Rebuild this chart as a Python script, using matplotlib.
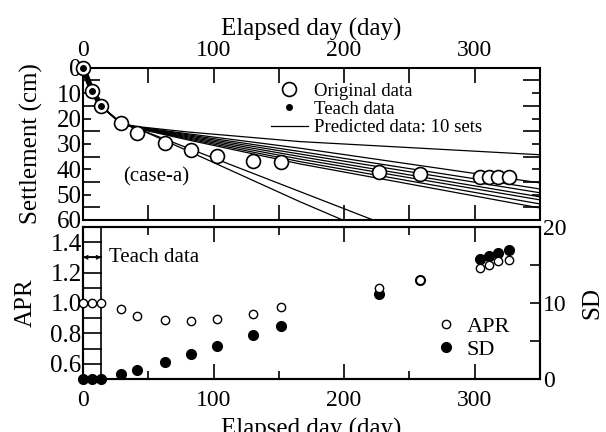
import matplotlib
matplotlib.use("Agg")
import matplotlib.pyplot as plt

plt.rcParams["font.family"] = ["Liberation Serif", "DejaVu Serif"]

# observed days and settlement (cm)
DAYS = [0, 7, 14, 29, 41, 63, 83, 103, 130, 152, 227, 258, 304, 311, 318, 326]
SETTLEMENT = [0, 9, 15, 21.7, 25.6, 29.7, 32.6, 34.7, 36.6, 37.3, 41, 41.8, 43, 43, 43, 43]

# teach data (first part of the record)
TEACH_DAYS = [0, 7, 14]
TEACH_SETTLEMENT = [0, 9, 15]

# predicted curves: 10 sets, settlement at PRED_DAYS
PRED_DAYS = [14, 29, 42, 80, 166, 350]
PRED_SETS = [
    [15, 22, 23.2, 25.3, 29.1, 34.3],
    [15, 22, 23.4, 26.0, 31.7, 45.4],
    [15, 22, 23.5, 26.4, 33.0, 47.8],
    [15, 22, 23.6, 26.8, 34.0, 49.3],
    [15, 22, 23.7, 27.2, 35.0, 50.9],
    [15, 22, 23.8, 27.6, 36.0, 52.1],
    [15, 22, 23.9, 28.0, 37.0, 53.7],
    [15, 22, 24.0, 28.4, 37.9, 55.3],
    [15, 22, 24.0, 31.6, 48.8, 85.6],
    [15, 22, 24.0, 32.7, 52.8, 93.3],
]

# APR and SD per observation
APR = [1.0, 1.0, 1.0, 0.96, 0.913, 0.887, 0.88, 0.893, 0.927, 0.973, 1.1, 1.153, 1.233, 1.247, 1.273, 1.28]
SD = [0, 0, 0, 0.66, 1.2, 2.2, 3.3, 4.3, 5.8, 7.0, 11.2, 13.0, 15.8, 16.2, 16.6, 17.0]

TEACH_END = 14

fig = plt.figure(figsize=(6.06, 4.32), dpi=100)
ax1 = fig.add_axes([0.137, 0.491, 0.754, 0.352])
ax2 = fig.add_axes([0.137, 0.1227, 0.754, 0.352])

# ---- top panel: settlement ----
for i, ps in enumerate(PRED_SETS):
    ax1.plot(PRED_DAYS, ps, color="black", lw=0.9,
             label="Predicted data: 10 sets" if i == 0 else None)
ax1.plot(TEACH_DAYS, TEACH_SETTLEMENT, color="black", lw=4, solid_capstyle="round")
ax1.plot(DAYS, SETTLEMENT, "o", ms=10, mfc="white", mec="black", mew=1.2,
         clip_on=False, zorder=5, label="Original data")
ax1.plot(TEACH_DAYS, TEACH_SETTLEMENT, "o", ms=4, color="black", zorder=6,
         clip_on=False, label="Teach data")

ax1.set_xlim(0, 350)
ax1.set_ylim(60, 0)
ax1.set_xticks([0, 100, 200, 300])
ax1.set_xticks([50, 150, 250], minor=True)
ax1.set_yticks(range(0, 61, 10))
ax1.set_yticks(range(5, 60, 10), minor=True)
ax1.xaxis.tick_top()
ax1.xaxis.set_label_position("top")
ax1.tick_params(axis="both", which="both", direction="in",
                top=True, bottom=True, left=True, right=True, width=1.2)
ax1.tick_params(axis="x", which="both", length=11, pad=5, labelsize=17)
ax1.tick_params(axis="y", which="major", length=6, pad=1, labelsize=18)
ax1.tick_params(axis="y", which="minor", length=12)
ax1.set_xlabel("Elapsed day (day)", fontsize=18, labelpad=3)
ax1.set_ylabel("Settlement (cm)", fontsize=18, labelpad=10)
ax1.text(31, 43, "(case-a)", fontsize=15, va="center")

h, l = ax1.get_legend_handles_labels()
order = [l.index("Original data"), l.index("Teach data"), l.index("Predicted data: 10 sets")]
ax1.legend([h[k] for k in order], [l[k] for k in order], loc="upper left",
           bbox_to_anchor=(0.378, 1.0), frameon=False, fontsize=13.5,
           handlelength=2.0, handletextpad=0.3, labelspacing=0.05, borderpad=0.3)

# ---- bottom panel: APR and SD ----
ax3 = ax2.twinx()
ax3.set_zorder(ax2.get_zorder() - 1)
ax2.patch.set_visible(False)
ax2.plot(DAYS, APR, "o", ms=6, mfc="white", mec="black", mew=1.0, clip_on=False,
         zorder=5, label="APR")
ax3.plot(DAYS, SD, "o", ms=7, color="black", clip_on=False, zorder=4, label="SD")
ax2.axvline(TEACH_END, color="black", lw=1.2)
ax2.annotate("", xy=(0, 1.3), xytext=(TEACH_END, 1.3),
             arrowprops=dict(arrowstyle="<->", lw=1.0, color="black",
                             shrinkA=0, shrinkB=0, mutation_scale=6))
ax2.text(TEACH_END + 6, 1.3, "Teach data", fontsize=15, va="center")

ax2.set_xlim(0, 350)
ax2.set_ylim(0.5, 1.5)
ax3.set_ylim(0, 20)
ax2.set_xticks([0, 100, 200, 300])
ax2.set_xticks([50, 150, 250], minor=True)
ax2.set_yticks([0.6, 0.8, 1.0, 1.2, 1.4])
ax2.set_yticks([0.5, 0.7, 0.9, 1.1, 1.3, 1.5], minor=True)
ax3.set_yticks([0, 10, 20])
ax3.set_yticks([5, 15], minor=True)
ax2.tick_params(axis="both", which="both", direction="in",
                top=True, bottom=True, left=True, right=False, width=1.2)
ax2.tick_params(axis="x", which="major", length=11, pad=8, labelsize=17)
ax2.tick_params(axis="x", which="minor", length=6)
ax2.tick_params(axis="y", which="both", length=14, pad=1, labelsize=18)
ax3.tick_params(axis="y", which="both", direction="in", labelsize=17, length=7,
                width=1.2, pad=2)
ax2.set_xlabel("Elapsed day (day)", fontsize=18, labelpad=5)
ax2.set_ylabel("APR", fontsize=18, labelpad=10)
ax3.set_ylabel("SD", fontsize=18, labelpad=11)

h2, l2 = ax2.get_legend_handles_labels()
h3, l3 = ax3.get_legend_handles_labels()
leg = ax2.legend(h2 + h3, l2 + l3, loc="upper left", bbox_to_anchor=(0.737, 0.515),
                 frameon=False, fontsize=16, handlelength=1.0, handletextpad=0.4,
                 labelspacing=0.1, borderpad=0.2)

for a in (ax1, ax2, ax3):
    for s in a.spines.values():
        s.set_linewidth(1.5)

fig.savefig("out.png", dpi=100)
